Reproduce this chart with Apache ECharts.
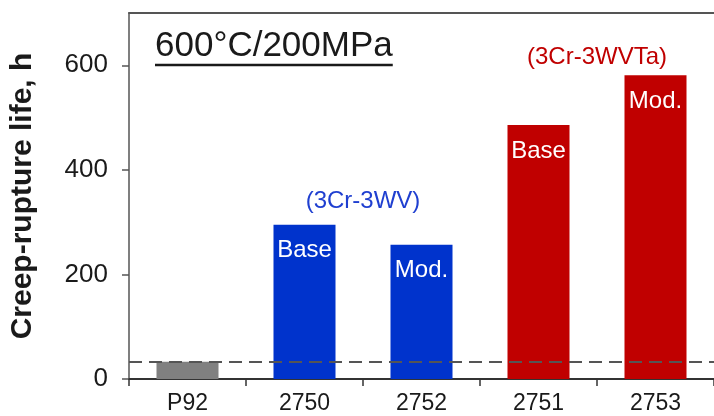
<!DOCTYPE html>
<html>
<head>
<meta charset="utf-8">
<script src="https://cdn.jsdelivr.net/npm/echarts@6/dist/echarts.min.js"></script>
<style>
  html, body { margin: 0; padding: 0; background: #fff; }
  #chart { width: 714px; height: 416px; }
</style>
</head>
<body>
<div id="chart"></div>
<script>
// data
const alloys = ['P92', '2750', '2752', '2751', '2753']
const ruptureLife = [33, 295, 257, 486, 581]
const barTags = ['', 'Base', 'Mod.', 'Base', 'Mod.']
const barColors = ['#808080', '#0033CC', '#0033CC', '#C00000', '#C00000']
const yTicks = [0, 200, 400, 600]
const p92Level = 33
// group labels: text, the two alloys they sit between, height in hours
const groupNames = ['(3Cr-3WV)', '(3Cr-3WVTa)']
const groupPairs = [['2750', '2752'], ['2751', '2753']]
const groupLevels = [339, 615]
const groupColors = ['#1f3fd0', '#C00000']

const font = '"Liberation Sans", Arial, sans-serif'

const chart = echarts.init(document.getElementById('chart'), null, { renderer: 'canvas' })

const option = {
  animation: false,
  backgroundColor: '#fff',
  grid: { left: 129, right: -7, top: 13, bottom: 37 },
  xAxis: [{
    type: 'category',
    data: alloys,
    boundaryGap: true,
    axisLine: { lineStyle: { color: '#333', width: 2 } },
    axisTick: { show: true, inside: false, length: 7, lineStyle: { color: '#333', width: 1.5 } },
    axisLabel: { color: '#1a1a1a', fontFamily: font, fontSize: 23, margin: 13 }
  }, {
    type: 'category',
    data: alloys,
    position: 'top',
    axisLine: { show: true, lineStyle: { color: '#555', width: 2 } },
    axisTick: { show: false },
    axisLabel: { show: false }
  }],
  yAxis: {
    type: 'value',
    min: 0,
    max: 700,
    interval: 200,
    name: 'Creep-rupture life, h',
    nameLocation: 'middle',
    nameGap: 91,
    nameTextStyle: { color: '#1a1a1a', fontFamily: font, fontSize: 30, fontWeight: 'bold' },
    splitLine: { show: false },
    axisLine: { show: true, lineStyle: { color: '#555', width: 1.5 } },
    axisTick: { show: true, length: 7, customValues: yTicks, lineStyle: { color: '#555', width: 1.5 } },
    axisLabel: { color: '#1a1a1a', fontFamily: font, fontSize: 26, margin: 21, customValues: yTicks }
  },
  series: [{
    type: 'bar',
    barWidth: '53%',
    data: ruptureLife.map((v, i) => ({
      value: v,
      itemStyle: { color: barColors[i] },
      label: {
        show: barTags[i] !== '',
        formatter: barTags[i]
      }
    })),
    label: {
      position: 'insideTop',
      distance: 14,
      color: '#fff',
      fontFamily: font,
      fontSize: 24
    },
    markLine: {
      silent: true,
      symbol: ['none', 'none'],
      label: { show: false },
      lineStyle: { color: '#555', type: [13, 7], width: 2 },
      data: [{ yAxis: p92Level }]
    }
  }]
}

chart.setOption(option)

// title with underline, and group labels placed between their two bars
const titleText = '600°C/200MPa'
const titleFont = '35px ' + font
const graphics = [{
  type: 'text',
  left: 155,
  top: 29,
  style: { text: titleText, font: titleFont, fill: '#1a1a1a' }
}]
const titleWidth = echarts.format.getTextRect
  ? echarts.format.getTextRect(titleText, titleFont).width
  : 240
graphics.push({
  type: 'line',
  shape: { x1: 155, y1: 65, x2: 155 + titleWidth, y2: 65 },
  style: { stroke: '#1a1a1a', lineWidth: 2.5 }
})

groupNames.forEach((name, i) => {
  const a = chart.convertToPixel({ seriesIndex: 0 }, [groupPairs[i][0], groupLevels[i]])
  const b = chart.convertToPixel({ seriesIndex: 0 }, [groupPairs[i][1], groupLevels[i]])
  graphics.push({
    type: 'text',
    x: (a[0] + b[0]) / 2,
    y: a[1],
    style: {
      text: name,
      font: '24px ' + font,
      fill: groupColors[i],
      align: 'center',
      verticalAlign: 'middle'
    }
  })
})

chart.setOption({ graphic: graphics })
</script>
</body>
</html>
